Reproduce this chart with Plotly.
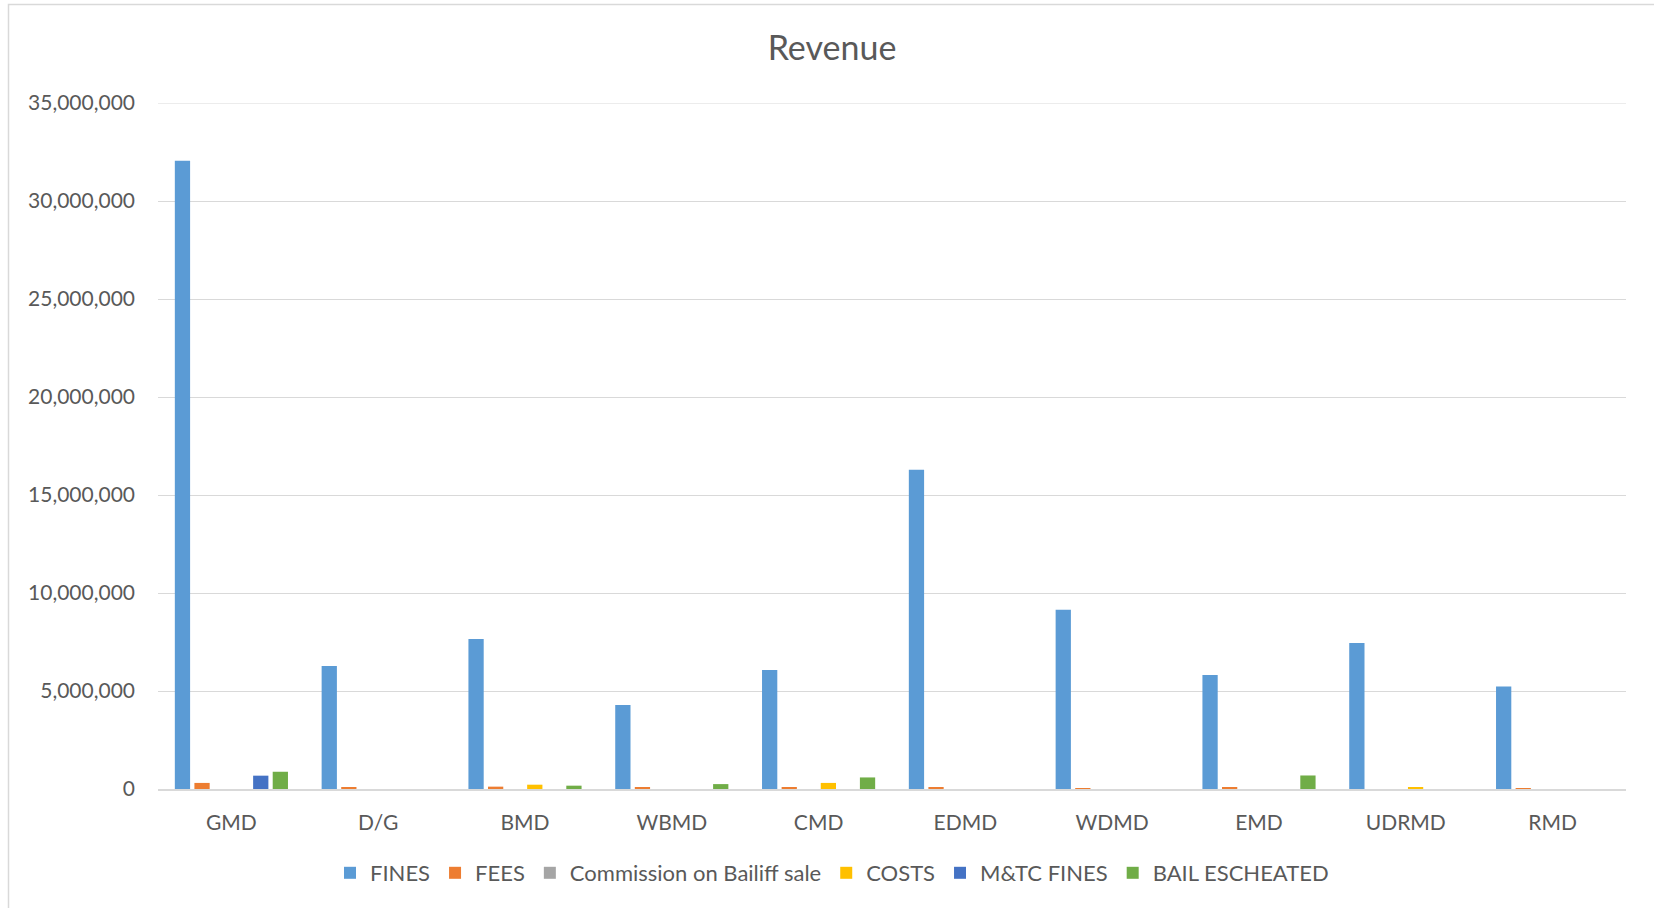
import plotly.graph_objects as go

categories = ["GMD", "D/G", "BMD", "WBMD", "CMD", "EDMD", "WDMD", "EMD", "UDRMD", "RMD"]

fines = [32050000, 6280000, 7650000, 4290000, 6070000, 16290000, 9150000, 5820000, 7450000, 5230000]
fees = [310000, 70000, 120000, 100000, 60000, 100000, 50000, 80000, 0, 50000]
commission = [0, 0, 0, 0, 0, 0, 0, 0, 0, 0]
costs = [0, 0, 220000, 0, 310000, 0, 0, 0, 100000, 0]
mtc_fines = [680000, 0, 0, 0, 0, 0, 0, 0, 0, 0]
bail_escheated = [880000, 0, 170000, 250000, 590000, 0, 0, 690000, 0, 0]

series_names = ["FINES", "FEES", "Commission on Bailiff sale", "COSTS", "M&TC FINES", "BAIL ESCHEATED"]
series_values = [fines, fees, commission, costs, mtc_fines, bail_escheated]
series_colors = ["#5B9BD5", "#ED7D31", "#A5A5A5", "#FFC000", "#4472C4", "#70AD47"]

y_max = 35000000
y_tickvals = [0, 5000000, 10000000, 15000000, 20000000, 25000000, 30000000, 35000000]
y_ticktext = ["0", "5,000,000", "10,000,000", "15,000,000", "20,000,000", "25,000,000", "30,000,000", "35,000,000"]

W, H = 1654, 908
ml, mr, mt, mb = 158, 28, 103, 119

fig = go.Figure()
for name, vals, col in zip(series_names, series_values, series_colors):
    fig.add_trace(go.Bar(x=categories, y=vals, name=name, marker=dict(color=col, line=dict(width=0))))

font_family = "Lato, 'Open Sans', sans-serif"
txt_col = "#595959"
grid_col = "#D9D9D9"

pw = W - ml - mr
ph = H - mt - mb
def px_x(p):
    return (p - ml) / pw
def px_y(p):
    return (H - mb - p) / ph

fig.update_layout(
    width=W, height=H,
    margin=dict(l=ml, r=mr, t=mt, b=mb, pad=0),
    paper_bgcolor="white", plot_bgcolor="white",
    barmode="group", bargap=0.2, bargroupgap=0.22,
    title=dict(text="Revenue", x=832 / W, xref="container", xanchor="center",
               y=1 - 48 / H, yref="container", yanchor="middle",
               font=dict(family=font_family, size=34, color=txt_col)),
    font=dict(family=font_family, size=21, color=txt_col),
    showlegend=True,
    legend=dict(orientation="h", x=px_x(832), xanchor="center", xref="paper",
                y=px_y(873), yanchor="middle", yref="paper",
                font=dict(family=font_family, size=22, color=txt_col),
                itemwidth=30, traceorder="normal", bgcolor="rgba(0,0,0,0)"),
    xaxis=dict(showgrid=False, showline=True, linecolor=grid_col, linewidth=1.5,
               ticks="", ticklabelstandoff=14, tickfont=dict(size=21, color=txt_col)),
    yaxis=dict(range=[0, y_max], tickvals=y_tickvals, ticktext=y_ticktext,
               showgrid=True, gridcolor=grid_col, gridwidth=1, zeroline=False,
               showline=False, ticks="", ticklabelstandoff=22,
               tickfont=dict(size=21, color=txt_col)),
    shapes=[
        dict(type="rect", xref="paper", yref="paper",
             x0=px_x(8.5), x1=px_x(W + 10), y0=px_y(H + 10), y1=px_y(4.5),
             line=dict(color=grid_col, width=1.5), fillcolor="rgba(0,0,0,0)", layer="below"),
        dict(type="line", xref="paper", yref="y", x0=0, x1=1, y0=y_max, y1=y_max,
             line=dict(color=grid_col, width=1), layer="below"),
    ],
)

fig.write_html("out.html", config={"displayModeBar": False},
               post_script="document.body.style.margin='0';")
